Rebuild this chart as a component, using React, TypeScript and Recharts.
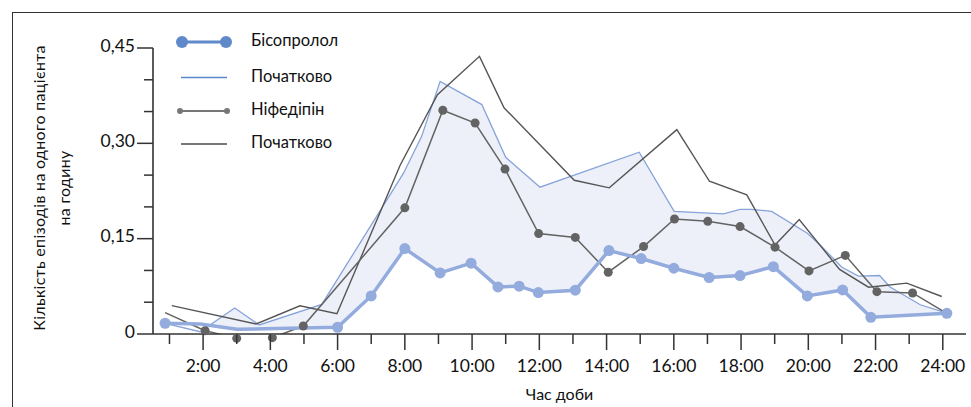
import React from 'react';
import { ComposedChart, Line, Area, XAxis, YAxis } from 'recharts';

// ---- Data (hours of the day, episodes per patient per hour) ----
const hourTicks = [1, 2, 3, 4, 5, 6, 7, 8, 9, 10, 11, 12, 13, 14, 15, 16, 17, 18, 19, 20, 21, 22, 23, 24];
const hourLabels = ['', '2:00', '', '4:00', '', '6:00', '', '8:00', '', '10:00', '', '12:00', '', '14:00', '', '16:00', '', '18:00', '', '20:00', '', '22:00', '', '24:00'];
const valueTicks = [0, 0.05, 0.1, 0.15, 0.2, 0.25, 0.3, 0.35, 0.4, 0.45];
const valueLabels = ['0', '', '', '0,15', '', '', '0,30', '', '', '0,45'];
const hourRange = [0.51, 24.69];
const valueRange = [0, 0.45];

const bisoprolol = [
  { h: 0.87, v: 0.0169 }, { h: 1.92, v: 0.0158 }, { h: 3.0, v: 0.0074 }, { h: 6.0, v: 0.0106 },
  { h: 7.0, v: 0.0599 }, { h: 8.0, v: 0.1344 }, { h: 9.05, v: 0.0961 }, { h: 9.97, v: 0.1114 },
  { h: 10.77, v: 0.0741 }, { h: 11.4, v: 0.0752 }, { h: 11.97, v: 0.0652 }, { h: 13.07, v: 0.0689 },
  { h: 14.07, v: 0.1312 }, { h: 15.03, v: 0.1187 }, { h: 16.0, v: 0.1035 }, { h: 17.05, v: 0.0889 },
  { h: 17.97, v: 0.0919 }, { h: 18.96, v: 0.106 }, { h: 19.97, v: 0.0599 }, { h: 21.02, v: 0.0693 },
  { h: 21.86, v: 0.0263 }, { h: 24.12, v: 0.0326 },
];
const bisoprololNoMarker = [1.92, 3.0];

const bisoprololBaseline = [
  { h: 0.87, v: 0.0169 }, { h: 1.91, v: 0.0036 }, { h: 2.94, v: 0.041 }, { h: 3.67, v: 0.0142 },
  { h: 5.53, v: 0.0465 }, { h: 7.96, v: 0.253 }, { h: 8.5, v: 0.311 }, { h: 9.05, v: 0.3975 },
  { h: 10.29, v: 0.361 }, { h: 11.0, v: 0.278 }, { h: 12.02, v: 0.231 }, { h: 14.97, v: 0.286 },
  { h: 16.01, v: 0.193 }, { h: 17.48, v: 0.189 }, { h: 17.97, v: 0.196 }, { h: 18.32, v: 0.196 },
  { h: 18.91, v: 0.193 }, { h: 19.96, v: 0.159 }, { h: 20.35, v: 0.14 }, { h: 21.0, v: 0.105 },
  { h: 21.49, v: 0.091 }, { h: 22.12, v: 0.092 }, { h: 22.43, v: 0.074 }, { h: 23.33, v: 0.046 },
  { h: 24.12, v: 0.033 },
];

const nifedipine = [
  { h: 0.87, v: 0.0336 }, { h: 2.06, v: 0.0052 }, { h: 3.0, v: -0.0068 }, { h: 4.06, v: -0.0058 },
  { h: 4.98, v: 0.0126 }, { h: 8.0, v: 0.1985 }, { h: 9.13, v: 0.352 }, { h: 10.09, v: 0.332 },
  { h: 10.98, v: 0.2595 }, { h: 11.98, v: 0.158 }, { h: 13.07, v: 0.152 }, { h: 14.05, v: 0.0972 },
  { h: 15.1, v: 0.1376 }, { h: 16.02, v: 0.181 }, { h: 17.01, v: 0.1773 }, { h: 17.97, v: 0.169 },
  { h: 19.01, v: 0.1366 }, { h: 20.02, v: 0.0993 }, { h: 21.1, v: 0.1237 }, { h: 22.04, v: 0.0666 },
  { h: 23.1, v: 0.0646 }, { h: 24.12, v: 0.0326 },
];
const nifedipineNoMarker = [0.87];

const nifedipineBaseline = [
  { h: 1.07, v: 0.0446 }, { h: 3.58, v: 0.0158 }, { h: 4.88, v: 0.0444 }, { h: 5.98, v: 0.0318 },
  { h: 7.86, v: 0.2655 }, { h: 8.97, v: 0.3766 }, { h: 10.22, v: 0.4369 }, { h: 10.95, v: 0.356 },
  { h: 13.04, v: 0.2419 }, { h: 14.08, v: 0.23 }, { h: 16.09, v: 0.3215 }, { h: 17.06, v: 0.2403 },
  { h: 18.17, v: 0.219 }, { h: 19.01, v: 0.14 }, { h: 19.73, v: 0.18 }, { h: 20.93, v: 0.1017 },
  { h: 21.79, v: 0.0737 }, { h: 22.93, v: 0.0801 }, { h: 23.97, v: 0.059 },
];

const legendLabels = ['Бісопролол', 'Початково', 'Ніфедіпін', 'Початково'];
const yTitleLines = ['Кількість епізодів на одного пацієнта', 'на годину'];
const xTitle = 'Час доби';

// ---- Styles ----
const FONT = 'Lato, "Noto Sans", sans-serif';
const AXIS = '#333';
const BISO = '#93abdd';
const BISO_LEG = '#5f89c9';
const BISO_BASE = '#86a3da';
const BISO_BASE_LEG = '#5b87cc';
const FILL = '#edf0f8';
const NIF = '#636363';
const NIF_BASE = '#555555';
const NIF_LEG = '#777777';

const XTick = (props: any) => {
  const { x, y, payload } = props;
  const i = hourTicks.indexOf(payload.value);
  const label = hourLabels[i] || '';
  const major = label !== '';
  return (
    <g>
      <line x1={x} x2={x} y1={y} y2={y + (major ? 16 : 10)} stroke={AXIS} strokeWidth={1.5} />
      {major && (
        <text x={x} y={y + 31} textAnchor="middle" dominantBaseline="central" fontSize={17.5} fill="#111" fontFamily={FONT}>
          {label}
        </text>
      )}
    </g>
  );
};

const YTick = (props: any) => {
  const { x, y, payload } = props;
  const i = valueTicks.indexOf(payload.value);
  const label = valueLabels[i] || '';
  const major = label !== '';
  return (
    <g>
      <line x1={x - (major ? 16 : 9)} x2={x} y1={y} y2={y} stroke={AXIS} strokeWidth={1.5} />
      {major && (
        <text x={x - 18} y={y - 3} textAnchor="end" dominantBaseline="central" fontSize={17.5} fill="#111" fontFamily={FONT}>
          {label}
        </text>
      )}
    </g>
  );
};

const makeDot = (color: string, r: number, skip: number[]) => (props: any) => {
  const { cx, cy, payload, index } = props;
  if (skip.includes(payload.h)) return <g key={`d-${index}`} />;
  return <circle key={`d-${index}`} cx={cx} cy={cy} r={r} fill={color} stroke="none" />;
};

const YTitle = () => {
  const cy = 188;
  return (
    <g fontFamily={FONT} fontSize={16} letterSpacing={0.3} fill="#111">
      <text x={38} y={cy} transform={`rotate(-90 38 ${cy})`} textAnchor="middle" dominantBaseline="central">{yTitleLines[0]}</text>
      <text x={63} y={cy} transform={`rotate(-90 63 ${cy})`} textAnchor="middle" dominantBaseline="central">{yTitleLines[1]}</text>
    </g>
  );
};

const XTitle = (props: any) => {
  const vb = props.viewBox || { x: 153, width: 813 };
  return (
    <text x={vb.x + vb.width / 2} y={393} textAnchor="middle" dominantBaseline="central" fontFamily={FONT} fontSize={16} fill="#111">
      {xTitle}
    </text>
  );
};

const LegendOverlay = () => {
  const rows = [42, 77.5, 111, 144];
  return (
    <svg width={971} height={407} style={{ position: 'absolute', left: 0, top: 0, pointerEvents: 'none' }}>
      <g fontFamily={FONT} fontSize={16.5} fill="#111">
        <line x1={182} x2={226} y1={rows[0]} y2={rows[0]} stroke={BISO_LEG} strokeWidth={3} />
        <circle cx={182} cy={rows[0]} r={6} fill={BISO_LEG} />
        <circle cx={226} cy={rows[0]} r={6} fill={BISO_LEG} />
        <line x1={181} x2={227} y1={rows[1]} y2={rows[1]} stroke={BISO_BASE_LEG} strokeWidth={1.5} />
        <line x1={180} x2={227} y1={rows[2]} y2={rows[2]} stroke={NIF_LEG} strokeWidth={2} />
        <circle cx={180} cy={rows[2]} r={3} fill={NIF_LEG} />
        <circle cx={227} cy={rows[2]} r={3} fill={NIF_LEG} />
        <line x1={181} x2={227} y1={rows[3]} y2={rows[3]} stroke={NIF_LEG} strokeWidth={2} />
        {legendLabels.map((l, i) => (
          <text key={i} x={251} y={rows[i] - 2} dominantBaseline="central">{l}</text>
        ))}
      </g>
    </svg>
  );
};

export default function App() {
  return (
    <div style={{ position: 'absolute', left: 0, top: 0, width: 971, height: 407, background: '#fff', overflow: 'hidden' }}>
      <style>{`.recharts-line, .recharts-line-dots { clip-path: none !important; }`}</style>
      <div style={{ position: 'absolute', left: 12, top: 12, width: 980, height: 420, borderLeft: '1.6px solid #333', borderTop: '1.6px solid #333' }} />
      <ComposedChart
        width={971}
        height={407}
        margin={{ top: 48, right: 5, bottom: 43, left: 113 }}
        style={{ position: 'absolute', left: 0, top: 0 }}
      >
        <Area data={bisoprololBaseline} dataKey="v" type="linear" stroke="none" fill={FILL} fillOpacity={1} isAnimationActive={false} />
        <Area data={bisoprolol} dataKey="v" type="linear" stroke="none" fill="#ffffff" fillOpacity={1} isAnimationActive={false} />
        <XAxis
          type="number"
          dataKey="h"
          domain={hourRange}
          allowDataOverflow
          ticks={hourTicks}
          interval={0}
          tickSize={0}
          tickMargin={0}
          tickLine={false}
          axisLine={{ stroke: AXIS, strokeWidth: 1.6 }}
          tick={<XTick />}
          height={30}
          label={<XTitle />}
        />
        <YAxis
          type="number"
          domain={valueRange}
          allowDataOverflow
          ticks={valueTicks}
          interval={0}
          tickSize={0}
          tickMargin={0}
          tickLine={false}
          axisLine={{ stroke: AXIS, strokeWidth: 1.6 }}
          tick={<YTick />}
          width={40}
          label={<YTitle />}
        />
        <Line data={bisoprololBaseline} dataKey="v" type="linear" stroke={BISO_BASE} strokeWidth={1.3} dot={false} isAnimationActive={false} />
        <Line data={nifedipineBaseline} dataKey="v" type="linear" stroke={NIF_BASE} strokeWidth={1.4} dot={false} isAnimationActive={false} />
        <Line data={nifedipine} dataKey="v" type="linear" stroke={NIF} strokeWidth={1.5} dot={makeDot(NIF, 4.5, nifedipineNoMarker)} isAnimationActive={false} />
        <Line data={bisoprolol} dataKey="v" type="linear" stroke={BISO} strokeWidth={3.5} dot={makeDot(BISO, 5.5, bisoprololNoMarker)} isAnimationActive={false} />
      </ComposedChart>
      <LegendOverlay />
    </div>
  );
}
